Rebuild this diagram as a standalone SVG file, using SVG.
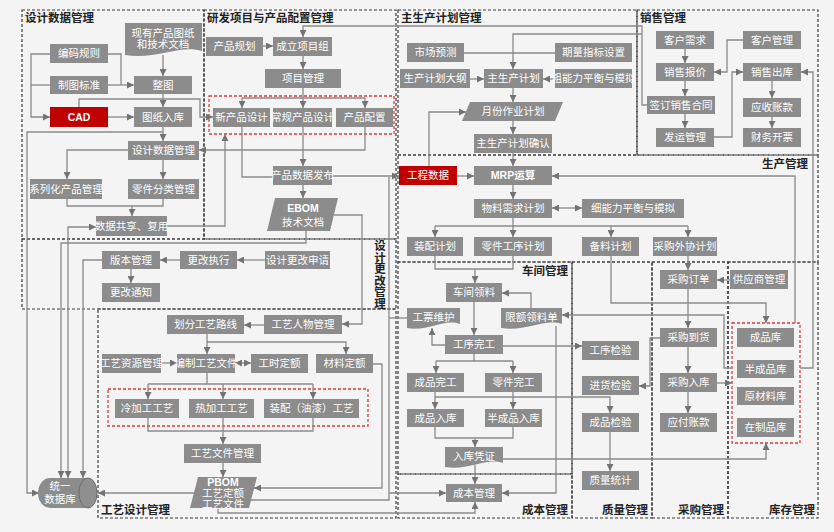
<svg xmlns="http://www.w3.org/2000/svg" width="834" height="532" viewBox="0 0 834 532">
<defs>
<marker id="ar" viewBox="0 0 10 10" refX="10" refY="5" markerWidth="7" markerHeight="7" markerUnits="userSpaceOnUse" orient="auto-start-reverse"><path d="M0,0 L10,5 L0,10 Z" fill="#737373"/></marker>
</defs>
<style>
.b{fill:#8c8c8c}
.r{fill:#c00000}
.t{fill:#fff;font-family:"Liberation Sans","Noto Sans CJK SC",sans-serif;font-size:10.5px;text-anchor:middle}
.sec{fill:none;stroke:#3a3a3a;stroke-width:1.2;stroke-dasharray:3 2}
.grp{fill:none;stroke:#e03a3a;stroke-width:1.3;stroke-dasharray:3 2}
.lb{fill:#222;font-family:"Liberation Sans","Noto Sans CJK SC",sans-serif;font-size:11.5px;font-weight:bold}
.c path{fill:none;stroke:#8a8a8a;stroke-width:1.3}
.c path.a{marker-end:url(#ar)}
.c path.d{marker-end:url(#ar);marker-start:url(#ar)}
</style>
<rect width="834" height="532" fill="#f4f4f4"/>

<g id="sections">
<rect class="sec" x="22" y="10" width="182" height="229"/>
<rect class="sec" x="204" y="10" width="192" height="229"/>
<rect class="sec" x="398" y="10" width="239" height="145"/>
<rect class="sec" x="637" y="10" width="181" height="145"/>
<rect class="sec" x="398" y="155" width="420" height="107"/>
<rect class="sec" x="22" y="239" width="374" height="70"/>
<rect class="sec" x="98" y="309" width="298" height="209"/>
<rect class="sec" x="398" y="262" width="174" height="212"/>
<rect class="sec" x="398" y="474" width="174" height="44"/>
<rect class="sec" x="572" y="262" width="80" height="256"/>
<rect class="sec" x="652" y="262" width="76" height="256"/>
<rect class="sec" x="728" y="262" width="90" height="256"/>
<text class="lb" x="25" y="22">设计数据管理</text>
<text class="lb" x="207" y="22">研发项目与产品配置管理</text>
<text class="lb" x="401" y="22">主生产计划管理</text>
<text class="lb" x="640" y="22">销售管理</text>
<text class="lb" x="808" y="168" text-anchor="end">生产管理</text>
<text class="lb" x="568" y="275" text-anchor="end">车间管理</text>
<text class="lb" x="568" y="514" text-anchor="end">成本管理</text>
<text class="lb" x="648" y="514" text-anchor="end">质量管理</text>
<text class="lb" x="724" y="514" text-anchor="end">采购管理</text>
<text class="lb" x="815" y="514" text-anchor="end">库存管理</text>
<text class="lb" x="101" y="514">工艺设计管理</text>
<text class="lb" x="380" y="250" text-anchor="middle">设</text>
<text class="lb" x="380" y="261.5" text-anchor="middle">计</text>
<text class="lb" x="380" y="273" text-anchor="middle">更</text>
<text class="lb" x="380" y="284.5" text-anchor="middle">改</text>
<text class="lb" x="380" y="296" text-anchor="middle">管</text>
<text class="lb" x="380" y="307.5" text-anchor="middle">理</text>
<rect class="grp" x="209" y="96" width="185" height="38"/>
<rect class="grp" x="108" y="389" width="260" height="37"/>
<rect class="grp" x="732" y="323" width="68" height="120"/>
</g>

<g class="c" id="connectors">
<path class="a" d="M163,55 V76"/>
<path d="M108,54 H121 V85"/>
<path class="a" d="M108,85 H134"/>
<path class="a" d="M50,54 H31 V117 H50"/>
<path d="M50,85 H31"/>
<path class="a" d="M108,117 H134"/>
<path class="a" d="M163,94 V107"/>
<path class="a" d="M79,107 V99 H200 V117 H213"/>
<path class="a" d="M163,127 V141"/>
<path class="a" d="M163,132 H27 V493 H39"/>
<path class="a" d="M128,150 H67 V179"/>
<path class="a" d="M163,160 V179"/>
<path d="M67,199 V206 H163 V199"/>
<path class="a" d="M132,206 V216"/>
<path class="a" d="M167,226 H225 V134"/>
<path class="d" d="M68,478 V227 H96"/>
<path class="a" d="M306,231 V243 H61 V478"/>
<path class="a" d="M102,260 H83 V478"/>

<path class="a" d="M263,46 H273"/>
<path class="a" d="M303,56 V69"/>
<path d="M303,88 V98 M242,98 H365"/>
<path class="a" d="M242,98 V108"/>
<path class="a" d="M303,98 V108"/>
<path class="a" d="M365,98 V108"/>
<path class="a" d="M303,127 V166"/>
<path d="M242,127 V177 H273"/>
<path class="a" d="M332,176 H399"/>
<path class="a" d="M365,127 V150 H199"/>
<path class="a" d="M303,185 V198"/>
<path class="a" d="M334,215 H362 V324 H342"/>
<path class="a" d="M647,105 H642 V26 H303 V37"/>
<path class="a" d="M642,34 H513 V69"/>

<path class="a" d="M265,260 H237"/>
<path class="a" d="M180,260 H160"/>
<path class="a" d="M131,269 V283"/>

<path d="M464,53 H555"/>
<path class="a" d="M470,79 H484"/>
<path class="a" d="M555,79 H543"/>
<path class="a" d="M513,88 V102"/>
<path class="a" d="M513,121 V134"/>
<path class="a" d="M513,153 V166"/>
<path class="a" d="M429,166 V112 H466"/>

<path class="a" d="M685,49 V63"/>
<path class="a" d="M685,81 V96"/>
<path class="a" d="M685,114 V128"/>
<path class="a" d="M743,40 H727 V72 H714"/>
<path class="a" d="M714,137 H732 V72 H743"/>
<path class="a" d="M772,81 V98"/>
<path class="a" d="M772,117 V128"/>
<path class="a" d="M800,368 H813 V72 H801"/>

<path class="a" d="M457,176 H474"/>
<path class="a" d="M513,185 V199"/>
<path class="d" d="M552,208 H582"/>
<path d="M513,218 V226 M435,226 H688"/>
<path class="a" d="M435,226 V237"/>
<path class="a" d="M513,226 V237"/>
<path class="a" d="M611,226 V237"/>
<path class="a" d="M688,226 V237"/>
<path class="a" d="M795,323 V176 H552"/>
<path class="a" d="M611,256 V303 H766 V323"/>
<path class="a" d="M688,256 V270"/>
<path class="a" d="M730,280 H717"/>
<path class="a" d="M688,289 V328"/>
<path class="a" d="M688,347 V373"/>
<path class="a" d="M688,392 V413"/>
<path class="a" d="M660,338 H650 V386 H639"/>
<path class="a" d="M717,383 H732"/>
<path class="a" d="M732,368 H724 V315 H562"/>

<path d="M435,256 V269 H513 V256"/>
<path class="a" d="M475,269 V283"/>
<path class="a" d="M531,308 V293 H502"/>
<path class="a" d="M474,302 V335"/>
<path class="a" d="M445,345 H432 V328"/>
<path d="M389,318 H407"/>
<path class="a" d="M503,346 H582"/>
<path d="M474,354 V361 M436,361 H513"/>
<path class="a" d="M436,361 V373"/>
<path class="a" d="M513,361 V373"/>
<path class="a" d="M435,392 V409"/>
<path class="a" d="M513,392 V409"/>
<path class="a" d="M435,397 H610 V413"/>
<path d="M435,427 V438 H513 V427"/>
<path class="a" d="M475,438 V447"/>
<path class="a" d="M475,465 V484"/>
<path class="a" d="M503,459 H766 V443"/>
<path class="a" d="M556,326 V493 H502"/>
<path class="a" d="M610,432 V471"/>

<path class="a" d="M264,325 H244"/>
<path class="a" d="M207,334 V354"/>
<path class="a" d="M207,342 H346 V354"/>
<path class="a" d="M161,363 H177"/>
<path class="d" d="M235,363 H251"/>
<path d="M207,373 V384 M148,384 H313"/>
<path class="a" d="M148,384 V399"/>
<path class="a" d="M223,384 V399"/>
<path class="a" d="M313,384 V399"/>
<path d="M148,418 V431 H313 V418"/>
<path class="a" d="M223,418 V444"/>
<path class="a" d="M223,463 V477"/>
<path class="a" d="M373,364 H382 V488 H254"/>
<path d="M251,500 H389 V177"/>
<path class="a" d="M389,493 H446"/>
<path class="a" d="M218,508 V513 H475 V502"/>
<path class="a" d="M194,493 H98"/>
</g>

<g id="n_xycp"><path class="b" d="M125,23 H202 V51 C180,44 156,60 125,55 Z"/><text class="t" x="163" y="37">现有产品图纸</text><text class="t" x="163" y="48">和技术文档</text></g>
<g id="n_bmgz"><rect class="b" x="50" y="44" width="58" height="19"/><text class="t" x="79" y="57.3">编码规则</text></g>
<g id="n_ztbz"><rect class="b" x="50" y="76" width="58" height="18"/><text class="t" x="79" y="88.8">制图标准</text></g>
<g id="n_cad"><rect class="r" x="50" y="107" width="58" height="20"/><text class="t" x="79" y="121" font-weight="bold">CAD</text></g>
<g id="n_zt"><rect class="b" x="134" y="76" width="58" height="18"/><text class="t" x="163" y="88.8">整图</text></g>
<g id="n_tzrk"><rect class="b" x="134" y="107" width="58" height="20"/><text class="t" x="163" y="121">图纸入库</text></g>
<g id="n_sjsjgl"><rect class="b" x="128" y="141" width="71" height="19"/><text class="t" x="163.5" y="154.3">设计数据管理</text></g>
<g id="n_xlh"><rect class="b" x="30" y="179" width="72" height="20"/><text class="t" x="66" y="193">系列化产品管理</text></g>
<g id="n_ljfl"><rect class="b" x="128" y="179" width="71" height="20"/><text class="t" x="163.5" y="193">零件分类管理</text></g>
<g id="n_sjgx"><rect class="b" x="96" y="216" width="71" height="20"/><text class="t" x="131.5" y="230">数据共享、复用</text></g>

<g id="n_cpgh"><rect class="b" x="206" y="37" width="57" height="19"/><text class="t" x="234.5" y="50.3">产品规划</text></g>
<g id="n_clxmz"><rect class="b" x="273" y="37" width="59" height="19"/><text class="t" x="302.5" y="50.3">成立项目组</text></g>
<g id="n_xmgl"><rect class="b" x="265" y="69" width="76" height="19"/><text class="t" x="303" y="82.3">项目管理</text></g>
<g id="n_xcpsj"><rect class="b" x="213" y="108" width="57" height="19"/><text class="t" x="241.5" y="121.3">新产品设计</text></g>
<g id="n_cgcpsj"><rect class="b" x="273" y="108" width="59" height="19"/><text class="t" x="302.5" y="121.3">常规产品设计</text></g>
<g id="n_cppz"><rect class="b" x="336" y="108" width="57" height="19"/><text class="t" x="364.5" y="121.3">产品配置</text></g>
<g id="n_cpsjfb"><rect class="b" x="273" y="166" width="59" height="19"/><text class="t" x="302.5" y="179.3">产品数据发布</text></g>
<g id="n_ebom"><polygon class="b" points="275,198 338,198 330,231 267,231"/><text class="t" x="303" y="212" font-weight="bold">EBOM</text><text class="t" x="303" y="226">技术文档</text></g>

<g id="n_sjggsq"><rect class="b" x="265" y="251" width="65" height="18"/><text class="t" x="297.5" y="263.8">设计更改申请</text></g>
<g id="n_ggzx"><rect class="b" x="180" y="251" width="57" height="18"/><text class="t" x="208.5" y="263.8">更改执行</text></g>
<g id="n_bbgl"><rect class="b" x="102" y="251" width="58" height="18"/><text class="t" x="131" y="263.8">版本管理</text></g>
<g id="n_ggtz"><rect class="b" x="102" y="283" width="58" height="19"/><text class="t" x="131" y="296.3">更改通知</text></g>

<g id="n_hfgylx"><rect class="b" x="167" y="315" width="77" height="19"/><text class="t" x="205.5" y="328.3">划分工艺路线</text></g>
<g id="n_gyrwgl"><rect class="b" x="264" y="315" width="78" height="19"/><text class="t" x="303" y="328.3">工艺人物管理</text></g>
<g id="n_gyzygl"><rect class="b" x="102" y="354" width="59" height="19"/><text class="t" x="131.5" y="367.3">工艺资源管理</text></g>
<g id="n_bzgywj"><rect class="b" x="177" y="354" width="58" height="19"/><text class="t" x="206" y="367.3">编制工艺文件</text></g>
<g id="n_gsde"><rect class="b" x="251" y="354" width="57" height="19"/><text class="t" x="279.5" y="367.3">工时定额</text></g>
<g id="n_clde"><rect class="b" x="316" y="354" width="57" height="19"/><text class="t" x="344.5" y="367.3">材料定额</text></g>
<g id="n_ljggy"><rect class="b" x="115" y="399" width="64" height="19"/><text class="t" x="147" y="412.3">冷加工工艺</text></g>
<g id="n_rjggy"><rect class="b" x="189" y="399" width="65" height="19"/><text class="t" x="221.5" y="412.3">热加工工艺</text></g>
<g id="n_zpgy"><rect class="b" x="264" y="399" width="95" height="19"/><text class="t" x="311.5" y="412.3">装配（油漆）工艺</text></g>
<g id="n_gywjgl"><rect class="b" x="184" y="444" width="77" height="19"/><text class="t" x="222.5" y="457.3">工艺文件管理</text></g>
<g id="n_pbom"><polygon class="b" points="198,477 257,477 249,508 190,508"/><text class="t" x="223" y="486" font-weight="bold">PBOM</text><text class="t" x="223" y="497">工艺定额</text><text class="t" x="223" y="507.5">工艺文件</text></g>
<g id="n_tysjk"><path class="b" d="M50,478 H88 A9,15 0 0 1 88,508 H50 A12,15 0 0 1 50,478 Z"/><ellipse cx="88" cy="493" rx="9" ry="15" fill="#8f8f8f" stroke="#6e6e6e" stroke-width="1"/><text class="t" x="60" y="490">统一</text><text class="t" x="60" y="503">数据库</text></g>

<g id="n_scyc"><rect class="b" x="407" y="43" width="57" height="19"/><text class="t" x="435.5" y="56.3">市场预测</text></g>
<g id="n_qlzb"><rect class="b" x="555" y="43" width="77" height="19"/><text class="t" x="593.5" y="56.3">期量指标设置</text></g>
<g id="n_scjhdg"><rect class="b" x="400" y="69" width="70" height="19"/><text class="t" x="435" y="82.3">生产计划大纲</text></g>
<g id="n_zscjh"><rect class="b" x="484" y="69" width="59" height="19"/><text class="t" x="513.5" y="82.3">主生产计划</text></g>
<g id="n_cnl"><rect class="b" x="555" y="69" width="77" height="19"/><text class="t" x="593.5" y="82.3">粗能力平衡与模拟</text></g>
<g id="n_yfzyjh"><polygon class="b" points="470,102 563,102 555,121 462,121"/><text class="t" x="513" y="115.3">月份作业计划</text></g>
<g id="n_zscjhqr"><rect class="b" x="474" y="134" width="78" height="19"/><text class="t" x="513" y="147.3">主生产计划确认</text></g>

<g id="n_khxq"><rect class="b" x="656" y="31" width="58" height="18"/><text class="t" x="685" y="43.8">客户需求</text></g>
<g id="n_khgl"><rect class="b" x="743" y="31" width="58" height="18"/><text class="t" x="772" y="43.8">客户管理</text></g>
<g id="n_xsbj"><rect class="b" x="656" y="63" width="58" height="18"/><text class="t" x="685" y="75.8">销售报价</text></g>
<g id="n_xsck"><rect class="b" x="743" y="63" width="58" height="18"/><text class="t" x="772" y="75.8">销售出库</text></g>
<g id="n_qdxsht"><rect class="b" x="647" y="96" width="68" height="18"/><text class="t" x="681" y="108.8">签订销售合同</text></g>
<g id="n_yszk"><rect class="b" x="743" y="98" width="58" height="19"/><text class="t" x="772" y="111.3">应收账款</text></g>
<g id="n_fygl"><rect class="b" x="656" y="128" width="58" height="19"/><text class="t" x="685" y="141.3">发运管理</text></g>
<g id="n_cwkp"><rect class="b" x="743" y="128" width="58" height="19"/><text class="t" x="772" y="141.3">财务开票</text></g>

<g id="n_gcsj"><rect class="r" x="399" y="166" width="58" height="19"/><text class="t" x="428" y="179.3">工程数据</text></g>
<g id="n_mrp"><rect class="b" x="474" y="166" width="78" height="19"/><text class="t" x="513" y="179.3" font-weight="bold">MRP运算</text></g>
<g id="n_wlxqjh"><rect class="b" x="474" y="199" width="78" height="19"/><text class="t" x="513" y="212.3">物料需求计划</text></g>
<g id="n_xnl"><rect class="b" x="582" y="199" width="102" height="19"/><text class="t" x="633" y="212.3">细能力平衡与模拟</text></g>
<g id="n_zpjh"><rect class="b" x="407" y="237" width="56" height="19"/><text class="t" x="435" y="250.3">装配计划</text></g>
<g id="n_ljgxjh"><rect class="b" x="474" y="237" width="78" height="19"/><text class="t" x="513" y="250.3">零件工序计划</text></g>
<g id="n_bljh"><rect class="b" x="582" y="237" width="57" height="19"/><text class="t" x="610.5" y="250.3">备料计划</text></g>
<g id="n_cgwxjh"><rect class="b" x="653" y="237" width="64" height="19"/><text class="t" x="685" y="250.3">采购外协计划</text></g>

<g id="n_cjll"><rect class="b" x="446" y="283" width="56" height="19"/><text class="t" x="474" y="296.3">车间领料</text></g>
<g id="n_gpwh"><path class="b" d="M407,308 H460 V324 C444,318 428,332 407,328 Z"/><text class="t" x="433.5" y="321">工票维护</text></g>
<g id="n_xells"><path class="b" d="M501,308 H562 V324 C544,318 526,332 501,328 Z"/><text class="t" x="531.5" y="321">限额领料单</text></g>
<g id="n_gxwg"><rect class="b" x="445" y="335" width="58" height="19"/><text class="t" x="474" y="348.3">工序完工</text></g>
<g id="n_cpwg"><rect class="b" x="407" y="373" width="57" height="19"/><text class="t" x="435.5" y="386.3">成品完工</text></g>
<g id="n_ljwg"><rect class="b" x="485" y="373" width="57" height="19"/><text class="t" x="513.5" y="386.3">零件完工</text></g>
<g id="n_cprk"><rect class="b" x="407" y="409" width="57" height="18"/><text class="t" x="435.5" y="421.8">成品入库</text></g>
<g id="n_bcprk"><rect class="b" x="485" y="409" width="57" height="18"/><text class="t" x="513.5" y="421.8">半成品入库</text></g>
<g id="n_rkpz"><path class="b" d="M445,447 H503 V463 C486,457 468,471 445,467 Z"/><text class="t" x="474" y="460">入库凭证</text></g>
<g id="n_cbgl"><rect class="b" x="446" y="484" width="56" height="18"/><text class="t" x="474" y="496.8">成本管理</text></g>

<g id="n_gxjy"><rect class="b" x="582" y="341" width="57" height="19"/><text class="t" x="610.5" y="354.3">工序检验</text></g>
<g id="n_jhjy"><rect class="b" x="582" y="376" width="57" height="19"/><text class="t" x="610.5" y="389.3">进货检验</text></g>
<g id="n_cpjy"><rect class="b" x="582" y="413" width="57" height="19"/><text class="t" x="610.5" y="426.3">成品检验</text></g>
<g id="n_zltj"><rect class="b" x="582" y="471" width="57" height="19"/><text class="t" x="610.5" y="484.3">质量统计</text></g>

<g id="n_cgdd"><rect class="b" x="660" y="270" width="57" height="19"/><text class="t" x="688.5" y="283.3">采购订单</text></g>
<g id="n_gysgl"><rect class="b" x="730" y="270" width="58" height="19"/><text class="t" x="759" y="283.3">供应商管理</text></g>
<g id="n_cgdh"><rect class="b" x="660" y="328" width="57" height="19"/><text class="t" x="688.5" y="341.3">采购到货</text></g>
<g id="n_cgrk"><rect class="b" x="660" y="373" width="57" height="19"/><text class="t" x="688.5" y="386.3">采购入库</text></g>
<g id="n_yfzk"><rect class="b" x="660" y="413" width="57" height="19"/><text class="t" x="688.5" y="426.3">应付账款</text></g>

<g id="n_cpk"><rect class="b" x="737" y="328" width="57" height="19"/><text class="t" x="765.5" y="341.3">成品库</text></g>
<g id="n_bcpk"><rect class="b" x="737" y="360" width="57" height="18"/><text class="t" x="765.5" y="372.8">半成品库</text></g>
<g id="n_yclk"><rect class="b" x="737" y="387" width="57" height="18"/><text class="t" x="765.5" y="399.8">原材料库</text></g>
<g id="n_zzpk"><rect class="b" x="737" y="418" width="57" height="19"/><text class="t" x="765.5" y="431.3">在制品库</text></g>
</svg>
